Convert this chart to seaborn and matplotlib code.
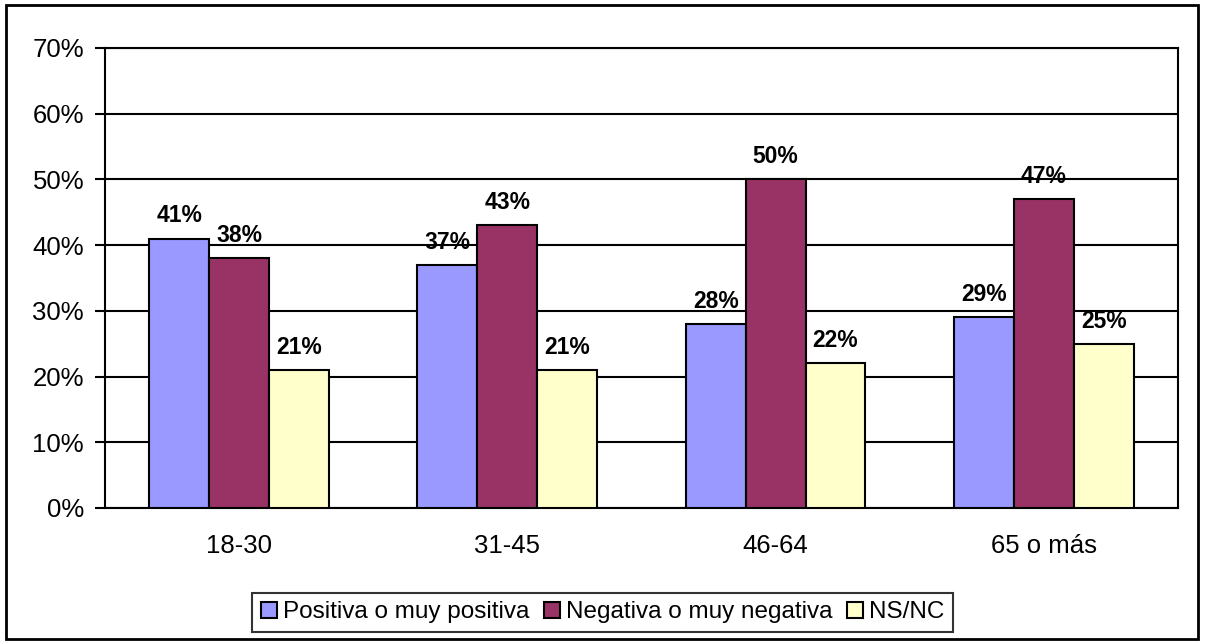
import pandas as pd
import matplotlib.pyplot as plt
import seaborn as sns
from matplotlib.patches import Rectangle
from matplotlib.ticker import PercentFormatter

age_groups = ['18-30', '31-45', '46-64', '65 o más']
series_names = ['Positiva o muy positiva', 'Negativa o muy negativa', 'NS/NC']
positiva = [41, 37, 28, 29]
negativa = [38, 43, 50, 47]
nsnc = [21, 21, 22, 25]

colors = ['#9999FF', '#993366', '#FFFFCC']

df = pd.DataFrame({
    'grupo': age_groups * 3,
    'serie': [s for s in series_names for _ in age_groups],
    'valor': positiva + negativa + nsnc,
})

sns.set_style('white')
plt.rcParams['font.family'] = ['Liberation Sans', 'DejaVu Sans']
plt.rcParams['text.color'] = 'black'
plt.rcParams['xtick.color'] = 'black'
plt.rcParams['ytick.color'] = 'black'

fig = plt.figure(figsize=(12.05, 6.44), dpi=100)
ax = fig.add_axes([0.0871, 0.2112, 0.8905, 0.7143])

sns.barplot(data=df, x='grupo', y='valor', hue='serie', order=age_groups,
            hue_order=series_names, palette=colors, width=0.67,
            edgecolor='black', linewidth=1.5, saturation=1, ax=ax, zorder=3)

for cont in ax.containers:
    ax.bar_label(cont, fmt='%d%%', padding=8, fontsize=16.5, fontweight='bold', color='black')

ax.set_ylim(0, 70)
ax.set_xlim(-0.5, 3.5)
ax.set_yticks(range(0, 71, 10))
ax.yaxis.set_major_formatter(PercentFormatter(decimals=0))
ax.grid(axis='y', color='black', linewidth=1.5, zorder=0)
ax.set_axisbelow(True)
for sp in ax.spines.values():
    sp.set_color('black')
    sp.set_linewidth(1.5)

ax.set_xlabel('')
ax.set_ylabel('')
ax.set_xticks(range(4))
ax.set_xticklabels(age_groups)
ax.set_xticks([-0.5, 0.5, 1.5, 2.5, 3.5], minor=True)
ax.tick_params(axis='x', which='major', length=0, pad=19, labelsize=18.5, labelcolor='black')
ax.tick_params(axis='x', which='minor', length=7, width=1.5, color='black', direction='out')
ax.tick_params(axis='y', length=7, width=1.5, color='black', direction='out',
               labelsize=18.5, labelcolor='black', pad=8, left=True)

handles, labels = ax.get_legend_handles_labels()
ax.get_legend().remove()
leg = fig.legend(handles, labels, loc='center', bbox_to_anchor=(0.5, 0.049), ncol=3,
                 fontsize=17.5, frameon=True, fancybox=False, edgecolor='black',
                 handlelength=0.65, handleheight=0.65, handletextpad=0.25,
                 columnspacing=0.6, borderpad=0.35)
leg.get_frame().set_linewidth(1.5)
for t in leg.get_texts():
    t.set_color('black')

fig.patches.append(Rectangle((0.005, 0.008), 0.989, 0.984, transform=fig.transFigure,
                             fill=False, edgecolor='black', linewidth=2))

fig.savefig('out.png', dpi=100, facecolor='white')
